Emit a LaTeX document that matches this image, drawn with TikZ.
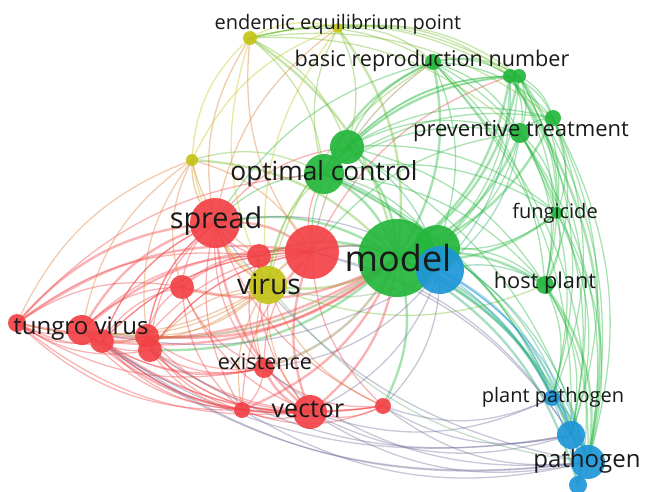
\documentclass[tikz,border=0pt]{standalone}
\usepackage{fontspec}
\setmainfont{Open Sans}
\usetikzlibrary{calc}
\pgfdeclarelayer{bg}
\pgfsetlayers{bg,main}
\definecolor{cR}{RGB}{242,66,70}
\definecolor{cG}{RGB}{36,182,60}
\definecolor{cB}{RGB}{30,150,215}
\definecolor{cY}{RGB}{196,196,24}
\colorlet{eR}{cR}
\colorlet{eG}{cG}
\colorlet{eB}{cB}
\colorlet{eY}{cY}
\colorlet{eRY}{cR!55!cY}
\colorlet{eRG}{cR!50!cG}
\colorlet{eGB}{cG!70!cB}
\colorlet{eGY}{cG!50!cY}
\colorlet{eRB}{cR!40!cB}
\colorlet{eYB}{cY!50!cB}
\tikzset{
  vn/.style={circle, inner sep=0pt, draw=none, fill opacity=0.92},
  lbl/.style={inner sep=0pt, text=black!90},
  edge/.style={line width=1.3pt, draw opacity=0.4},
  hubedge/.style={line width=2.4pt, draw opacity=0.4},
}
\newcommand\vnode[5]{\node[vn, fill=#5, minimum size=#4*2pt] (#1) at (#2,#3) {};}
\newcommand\vlabel[5]{\node[lbl, font=\fontsize{#4}{#4}\selectfont] (L#1) at (#2,#3) {#5};}
\newcommand\vedge[4]{\draw[#4, draw=e#3] let \p1=(#1.center), \p2=(#2.center),
  \n1={((\x1-320pt)/100)*((\y2+260pt)/100)-((\y1+260pt)/100)*((\x2-320pt)/100) > 0 ? -22 : 22}
  in (#1.center) to[bend left=\n1] (#2.center);}
\begin{document}
\begin{tikzpicture}[x=1pt,y=-1pt]
\useasboundingbox (0,0) rectangle (645,492);
% nodes: yellow
\vnode{yee}{250}{38}{7}{cY}
\vnode{ytop}{338}{28}{5}{cY}
\vnode{yl}{192}{160}{6}{cY}
% green
\vnode{basic}{433}{62}{8}{cG}
\vnode{gtwo}{510}{76}{7}{cG}
\vnode{gthree}{519}{76}{7}{cG}
\vnode{gfour}{553}{118}{8}{cG}
\vnode{prev}{520}{133}{10}{cG}
\vnode{gsix}{347}{147}{17}{cG}
\vnode{opt}{324}{174}{20}{cG}
\vnode{fung}{557}{213}{6}{cG}
\vnode{host}{545}{285}{9}{cG}
% blue
\vnode{ppath}{552}{398}{8}{cB}
\vnode{bthree}{571}{435}{14}{cB}
\vnode{path}{588}{462}{17}{cB}
\vnode{bfive}{578}{485}{9}{cB}
% red
\vnode{spread}{215}{223}{25}{cR}
\vnode{rtwo}{259}{256}{12}{cR}
\vnode{rthree}{182}{287}{12}{cR}
\vnode{tone}{17}{323}{9}{cR}
\vnode{tv}{82}{330}{15}{cR}
\vnode{tthree}{102}{341}{12}{cR}
\vnode{tfour}{147}{336}{12}{cR}
\vnode{tfive}{150}{350}{12}{cR}
\vnode{exist}{264}{368}{10}{cR}
\vnode{rfour}{242}{410}{8}{cR}
\vnode{vector}{310}{412}{17}{cR}
\vnode{rfive}{383}{406}{8}{cR}
\vnode{rone}{312}{252}{27}{cR}
\vnode{virus}{268}{285}{19}{cY}
\vnode{gten}{437}{248}{23}{cG}
\vnode{model}{397}{258}{39}{cG}
\vnode{bone}{440}{270}{24}{cB}
% edges
\begin{pgfonlayer}{bg}
\foreach \a/\b/\c in {
 model/yee/GY, model/ytop/GY, model/yl/GY, model/virus/GY, model/basic/G, model/gtwo/G, model/gthree/G, model/gfour/G,
 model/prev/G, model/gsix/G, model/opt/G, model/fung/G, model/host/G, model/bone/GB, model/ppath/GB, model/bthree/GB,
 model/path/GB, model/bfive/GB, model/spread/G, model/rone/RG, model/rtwo/G, model/rthree/R, model/tone/R, model/tv/RG,
 model/tthree/R, model/tfour/R, model/tfive/G, model/exist/RG, model/rfour/R, model/vector/R, model/rfive/G,
 rone/spread/R, rone/tv/R, rone/tone/R, rone/vector/R, rone/virus/RY, spread/tv/R, spread/tone/R, spread/vector/R,
 spread/virus/RY, opt/gsix/G, opt/basic/G, vector/tv/R, bthree/path/B, host/path/G, gtwo/path/G, exist/vector/R}
 {\vedge{\a}{\b}{\c}{hubedge}}
\foreach \a/\b/\c in {
 rone/rtwo/R, rone/rthree/R, rone/tthree/R, rone/tfour/R, rone/tfive/R, rone/exist/R, rone/rfour/R, rone/rfive/R,
 rone/yee/RY, rone/yl/RY, rone/opt/R, rone/gsix/G, rone/basic/RG, rone/bone/RB, rone/path/RB, rone/bthree/RB, rone/prev/G, rone/gtwo/R,
 spread/rtwo/R, spread/rthree/R, spread/tthree/R, spread/tfour/R, spread/tfive/R, spread/exist/R, spread/rfour/R, spread/rfive/R,
 spread/yee/RY, spread/yl/RY, spread/opt/G, spread/gsix/R, spread/basic/G, spread/bone/RB, spread/path/RB, spread/ytop/RY,
 vector/tone/R, vector/tthree/R, vector/tfour/R, vector/tfive/R, vector/rfour/R, vector/rfive/R, vector/virus/RY,
 vector/rtwo/R, vector/rthree/R, vector/bthree/RB, vector/path/RB, vector/ppath/RB,
 tv/tone/R, tv/tthree/R, tv/tfour/R, tv/tfive/R, tv/rthree/R, tv/rtwo/R, tv/virus/RY, tv/exist/R, tv/rfour/R, tv/rfive/R, tv/path/RB, tv/bthree/RB,
 tone/tthree/R, tone/tfour/R, tone/tfive/R, tone/rthree/R, tone/rtwo/R, tone/virus/RY, tone/exist/R, tone/rfour/R, tone/opt/R,
 tthree/rthree/R, tthree/exist/R, tthree/rfour/R, tthree/rfive/R, tthree/virus/RY, tthree/spread/R, tthree/rone/R,
 tfour/rthree/R, tfour/exist/R, tfour/rfour/R, tfour/virus/RY, tfive/exist/R, tfive/rfive/R, tfive/virus/RY, tfive/rfour/R,
 tfour/spread/R, tfive/rone/R, tfive/vector/R, tthree/vector/R,
 virus/yee/Y, virus/yl/Y, virus/ytop/Y, virus/opt/GY, virus/gsix/GY, virus/basic/GY, virus/rtwo/RY, virus/rthree/RY,
 virus/exist/RY, virus/rfour/RY, virus/rfive/RY, virus/bone/YB, virus/host/GY, virus/path/YB,
 opt/yee/GY, opt/ytop/GY, opt/yl/GY, opt/gtwo/G, opt/gthree/G, opt/gfour/G, opt/prev/G, opt/fung/G, opt/host/G,
 opt/gten/G, opt/bone/GB, opt/path/G, opt/ppath/G, opt/bthree/G,
 gsix/yee/GY, gsix/ytop/GY, gsix/basic/G, gsix/gtwo/G, gsix/gthree/G, gsix/gfour/G, gsix/prev/G, gsix/fung/G, gsix/host/G, gsix/bone/GB, gsix/path/G,
 basic/gtwo/G, basic/gthree/G, basic/gfour/G, basic/prev/G, basic/fung/G, basic/host/G, basic/yee/GY, basic/ytop/GY, basic/gten/G, basic/path/G, basic/bthree/G,
 gtwo/gfour/G, gtwo/prev/G, gtwo/fung/G, gtwo/host/G, gtwo/yee/GY, gtwo/ytop/GY, gtwo/gten/G, gtwo/bone/GB, gtwo/bthree/G,
 gthree/gfour/G, gthree/prev/G, gthree/fung/G, gthree/host/G, gthree/yee/GY, gthree/gten/G, gthree/path/G, gthree/ppath/G,
 gfour/prev/G, gfour/fung/G, gfour/host/G, gfour/path/G, gfour/bthree/G, gfour/ppath/G,
 prev/fung/G, prev/host/G, prev/gten/G, prev/bone/GB, prev/path/G, prev/bthree/G, prev/ppath/G,
 fung/host/G, fung/gten/G, fung/path/G, fung/bthree/G,
 host/gten/G, host/bone/GB, host/ppath/G, host/bthree/G, host/bfive/G,
 gten/bone/GB, gten/path/GB, gten/bthree/GB,
 bone/ppath/B, bone/bthree/B, bone/path/B, bone/bfive/B, bone/exist/RB, bone/vector/RB, bone/rfive/RB, bone/tv/RB,
 ppath/bthree/B, ppath/path/B, ppath/bfive/B, bthree/bfive/B, path/bfive/B,
 yee/ytop/Y, yee/yl/Y, yee/gfour/GY, yee/prev/GY, ytop/yl/Y, ytop/gthree/GY, yl/rtwo/RY, yl/rthree/RY, yl/tone/RY, yl/tfour/RY, yl/tv/RY,
 rthree/exist/R, rthree/rfour/R, rtwo/exist/R, rtwo/rthree/R, exist/rfour/R, exist/rfive/R, rfour/rfive/R,
 tthree/path/RB, tfive/bthree/RB, rfour/path/RB, exist/path/RB, rfive/path/RB, rfive/bthree/RB, rfive/ppath/RB}
 {\vedge{\a}{\b}{\c}{edge}}
\end{pgfonlayer}
% labels
\vlabel{yee}{338}{24}{20}{endemic equilibrium point}
\vlabel{basic}{432}{61}{21.6}{basic reproduction number}
\vlabel{prev}{521}{131}{22}{preventive treatment}
\vlabel{opt}{324}{174}{26.3}{optimal control}
\vlabel{fung}{555}{213}{20}{fungicide}
\vlabel{spread}{216}{221}{28.8}{spread}
\vlabel{model}{398}{258}{36}{model}
\vlabel{virus}{269}{284}{28.3}{virus}
\vlabel{host}{545}{283}{21.8}{host plant}
\vlabel{tv}{81}{329}{24}{tungro virus}
\vlabel{exist}{265}{362}{21.6}{existence}
\vlabel{vector}{308}{409}{25}{vector}
\vlabel{ppath}{553}{397}{20}{plant pathogen}
\vlabel{path}{587}{461}{24}{pathogen}
\end{tikzpicture}
\end{document}
